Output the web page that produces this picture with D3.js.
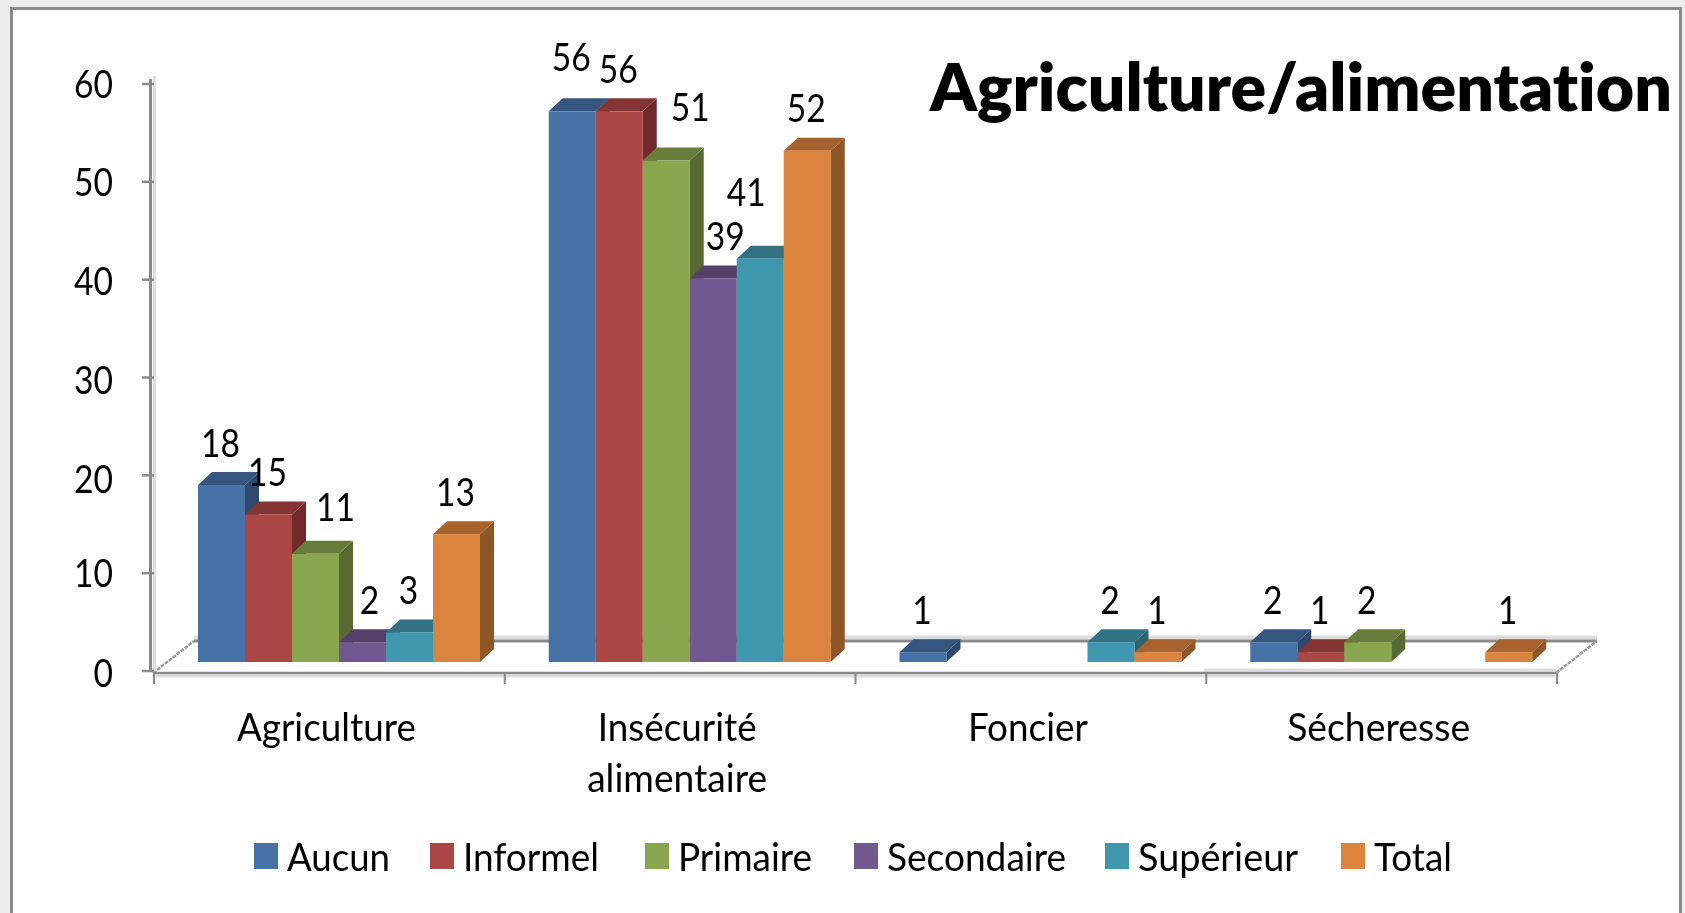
<!DOCTYPE html>
<html><head><meta charset="utf-8">
<script src="https://cdn.jsdelivr.net/npm/d3@7"></script>
<style>html,body{margin:0;padding:0;background:#fff}svg{display:block}text{font-family:Lato,"Noto Sans",sans-serif;fill:#000;font-variant-ligatures:none;font-feature-settings:"liga" 0}</style>
</head><body><svg id="c" width="1685" height="913"></svg>
<script>
const categories = ["Agriculture", "Insécurité alimentaire", "Foncier", "Sécheresse"];
const seriesNames = ["Aucun", "Informel", "Primaire", "Secondaire", "Supérieur", "Total"];
const aucun = [18, 56, 1, 2];
const informel = [15, 56, null, 1];
const primaire = [11, 51, null, 2];
const secondaire = [2, 39, null, null];
const superieur = [3, 41, 2, null];
const total = [13, 52, 1, 1];
const seriesValues = [aucun, informel, primaire, secondaire, superieur, total];
const yTicks = [0, 10, 20, 30, 40, 50, 60];
const frontColors = ["#4672a8", "#aa4644", "#89a54e", "#71588f", "#4198af", "#db843d"];
const topColors = ["#35567f", "#823432", "#677d3a", "#55416c", "#317284", "#a6632d"];
const sideColors = ["#2d4a6e", "#6f2c2b", "#586b32", "#49385d", "#2a6271", "#8e5526"];
// hand-placed label nudges [series, category, dx, dy]
const labelNudges = [[2,0,21,-4],[3,0,8,0],[0,1,0,-12],[2,1,25,-11],[3,1,13,0],[4,1,-13,-24]];
const tickLabelDrop = [16, 14, 17.5, 16, 15, 14, 14];
const legendSwatchX = [254, 430, 645, 854, 1105, 1341];
const legendWidths = [103, 136, 134, 179, 160, 78];

const svg = d3.select("#c");
svg.append("defs").append("filter").attr("id","soft").append("feGaussianBlur").attr("stdDeviation",0.55);

// page + frame
svg.append("rect").attr("width",1685).attr("height",913).attr("fill","#ededed");
svg.append("rect").attr("x",11.5).attr("y",8.5).attr("width",1669).attr("height",920)
  .attr("fill","#fff").attr("stroke","#8a8a8a").attr("stroke-width",3);

const g = svg.append("g").attr("filter","url(#soft)");

const x = d3.scaleBand().domain(categories).range([153, 1556]);
const inner = d3.scaleBand().domain(seriesNames).range([45, 327]);
const y = d3.scaleLinear().domain([0, 60]).range([671, 84]);
const yBar = d3.scaleLinear().domain([0, 60]).range([662, 72]);
const depthX = 14, depthY = 13;
const floorDX = 41, floorDY = -32;
const poly = pts => pts.map(p => p.join(",")).join(" ");

const y0 = y(0) + 2;
// back floor edge
g.append("line").attr("x1",153+floorDX).attr("x2",1556+floorDX).attr("y1",y0+floorDY-3.5).attr("y2",y0+floorDY-3.5).attr("stroke","#dcdcdc").attr("stroke-width",4);
g.append("line").attr("x1",153+floorDX).attr("x2",1556+floorDX).attr("y1",y0+floorDY).attr("y2",y0+floorDY).attr("stroke","#8a8a8a").attr("stroke-width",3);
// floor diagonals
[153, 1556].forEach(px => g.append("line").attr("x1",px).attr("y1",y0).attr("x2",px+floorDX).attr("y2",y0+floorDY).attr("stroke","#9a9a9a").attr("stroke-width",2.5).attr("stroke-dasharray","4 1"));
// front floor edge with its light bands
g.append("line").attr("x1",1204).attr("x2",1556).attr("y1",y0-3).attr("y2",y0-3).attr("stroke","#dedede").attr("stroke-width",3);
g.append("line").attr("x1",153).attr("x2",1556).attr("y1",y0+3).attr("y2",y0+3).attr("stroke","#dcdcdc").attr("stroke-width",3);
g.append("line").attr("x1",153).attr("x2",1556).attr("y1",y0).attr("y2",y0).attr("stroke","#8a8a8a").attr("stroke-width",2.5);
// category ticks
[...categories.map(c => x(c)), 1556].forEach(t => {
  g.append("line").attr("x1",t+1).attr("x2",t+1).attr("y1",y0).attr("y2",y0+11).attr("stroke","#8a8a8a").attr("stroke-width",2);
});
// y axis
g.append("line").attr("x1",154.5).attr("x2",154.5).attr("y1",76).attr("y2",y(0)).attr("stroke","#dedede").attr("stroke-width",3.5);
g.append("line").attr("x1",150.5).attr("x2",150.5).attr("y1",y(60)-5).attr("y2",y(0)+1).attr("stroke","#8a8a8a").attr("stroke-width",3);
yTicks.forEach(t => {
  g.append("line").attr("x1",142).attr("x2",154).attr("y1",y(t)).attr("y2",y(t)).attr("stroke","#8a8a8a").attr("stroke-width",2.5);
});

// bars: sides and tops, then fronts
seriesNames.forEach((s, si) => {
  categories.forEach((c, ci) => {
    const v = seriesValues[si][ci];
    if (v == null) return;
    const x0 = x(c) + inner(s), w = inner.bandwidth();
    const top = yBar(v), base = yBar(0);
    g.append("polygon").attr("fill",sideColors[si])
      .attr("points",poly([[x0+w,top],[x0+w+depthX,top-depthY],[x0+w+depthX,base-depthY],[x0+w,base]]));
    g.append("polygon").attr("fill",topColors[si])
      .attr("points",poly([[x0,top],[x0+depthX,top-depthY],[x0+w+depthX,top-depthY],[x0+w,top]]));
  });
});
seriesNames.forEach((s, si) => {
  categories.forEach((c, ci) => {
    const v = seriesValues[si][ci];
    if (v == null) return;
    const x0 = x(c) + inner(s), w = inner.bandwidth();
    g.append("rect").attr("x",x0).attr("y",yBar(v)).attr("width",w).attr("height",yBar(0)-yBar(v)).attr("fill",frontColors[si]);
  });
});

const T = (sel, txt, px, py, size, opts={}) => {
  const t = sel.append("text").attr("x",px).attr("y",py).attr("font-size",size).text(txt);
  if (opts.anchor) t.attr("text-anchor",opts.anchor);
  if (opts.weight) t.attr("font-weight",opts.weight);
  if (opts.len) t.attr("textLength",opts.len).attr("lengthAdjust","spacingAndGlyphs");
  return t;
};
const FS = 38;
// value labels
seriesNames.forEach((s, si) => {
  categories.forEach((c, ci) => {
    const v = seriesValues[si][ci];
    if (v == null) return;
    const n = labelNudges.find(d => d[0]===si && d[1]===ci) || [0,0,0,0];
    T(g, v, x(c)+inner(s)+inner.bandwidth()/2+n[2]-1, yBar(v)-28.5+n[3], FS, {anchor:"middle", len:String(v).length*19.5});
  });
});
// y tick labels
yTicks.forEach((t,i) => T(g, t, 113, y(t)+tickLabelDrop[i], FS, {anchor:"end", len:String(t).length*19.5}));
// category labels
const catLines = {"Agriculture":["Agriculture"],"Insécurité alimentaire":["Insécurité","alimentaire"],"Foncier":["Foncier"],"Sécheresse":["Sécheresse"]};
const catLens = {"Agriculture":179,"Insécurité":159,"alimentaire":180,"Foncier":120,"Sécheresse":183};
categories.forEach(c => {
  catLines[c].forEach((l,i) => T(g, l, x(c)+x.bandwidth()/2-2, 741+i*51, FS, {anchor:"middle", len:catLens[l]}));
});
// legend
seriesNames.forEach((s,i) => {
  g.append("rect").attr("x",legendSwatchX[i]).attr("y",843).attr("width",24).attr("height",26).attr("fill",frontColors[i]);
  T(g, s, legendSwatchX[i]+33, 871, FS, {len:legendWidths[i]});
});
// title
T(g, "Agriculture/alimentation", 930, 111, 67, {weight:800, len:742});
</script></body></html>
